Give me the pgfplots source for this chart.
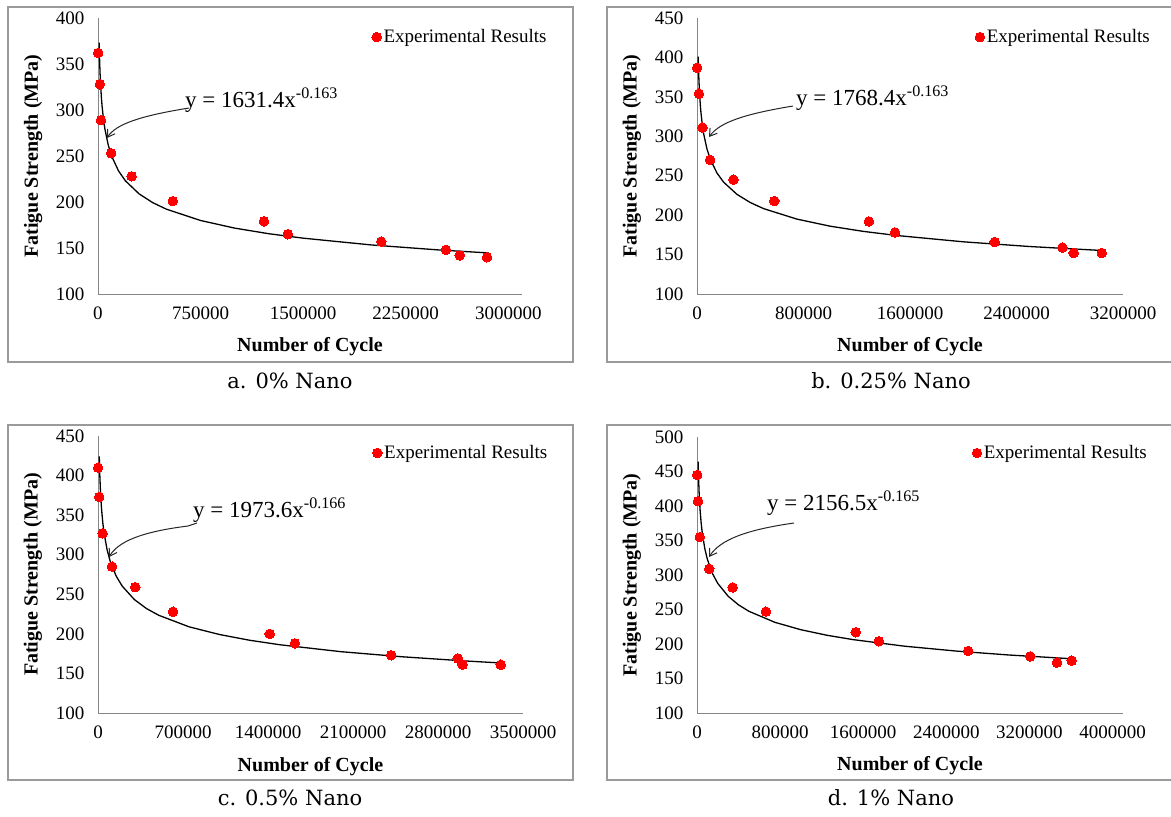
\documentclass[border=0pt]{standalone}
\usepackage{pgfplots}
\pgfplotsset{compat=1.18}
\usetikzlibrary{arrows.meta}
\usepackage{fontspec}
\setmainfont{Liberation Serif}
\newfontfamily\capfont{DejaVu Serif}
\definecolor{axgray}{HTML}{868686}
\definecolor{framegray}{HTML}{9A9A9A}
\definecolor{ptred}{HTML}{FF0000}

\pgfplotsset{
  panel/.style={
    scale only axis, clip=false,
    axis x line=bottom, axis y line=left,
    axis line style={-, draw=axgray, line width=0.9pt},
    major tick length=0pt,
    ymin=100,
    scaled x ticks=false,
    /pgf/number format/assume math mode=true,
    xticklabel style={/pgf/number format/fixed, /pgf/number format/1000 sep={}, yshift=-9pt},
    yticklabel style={xshift=-10pt},
    ticklabel style={font=\fontsize{19}{19}\selectfont},
    label style={font=\fontsize{20}{20}\selectfont\bfseries},
    xlabel style={at={(axis description cs:0.5,-0.192)}, anchor=center},
    ylabel style={at={(axis description cs:-0.153,0.5)}, anchor=center},
    xlabel={Number of Cycle},
    ylabel={Fatigue Strength (MPa)},
    legend style={draw=none, fill=none, inner sep=0pt, outer sep=0pt, anchor=west,
      font=\fontsize{19}{19}\selectfont,
      /tikz/every even column/.append style={column sep=3pt}},
    legend cell align=left,
    legend image code/.code={\draw[mark repeat=2,mark phase=2,##1] plot coordinates {(0pt,0pt) (5pt,0pt) (10pt,0pt)};},
  },
  pts/.style={only marks, color=ptred, mark=*, mark size=4.8pt, mark options={draw=ptred, fill=ptred, line width=0pt}},
  fit/.style={black, line width=1.3pt, no marks, forget plot},
}

\begin{document}
\begin{tikzpicture}
\useasboundingbox (0pt,0pt) rectangle (1171pt,-817pt);
\fill[white] (0pt,0pt) rectangle (1171pt,-817pt);

% frames
\draw[framegray, line width=1.2pt] (8pt,-7pt) rectangle (573pt,-362pt);
\draw[framegray, line width=1.2pt] (1172pt,-7pt) -- (607pt,-7pt) -- (607pt,-362pt) -- (1172pt,-362pt);
\draw[framegray, line width=1.2pt] (8pt,-425pt) rectangle (573pt,-780pt);
\draw[framegray, line width=1.2pt] (1172pt,-425pt) -- (607pt,-425pt) -- (607pt,-780pt) -- (1172pt,-780pt);

% ---------- a ----------
\begin{axis}[panel, at={(98pt,-294pt)}, anchor=south west, width=424pt, height=276pt,
  xmin=0, xmax=3100000, ymax=400,
  xtick={0,750000,1500000,2250000,3000000}, ytick={100,150,...,400},
  legend style={at={(0.646,0.931)}}]
\addplot[fit] coordinates {(8500,373.3)(10000,363.6)(12500,350.6)(15000,340.3)(20000,324.7)(25000,313.2)(30000,304.0)(40000,290.1)(50000,279.7)(75000,261.8)(100000,249.8)(150000,233.8)(200000,223.1)(300000,208.9)(400000,199.3)(500000,192.2)(750000,179.9)(1000000,171.6)(1250000,165.5)(1500000,160.7)(2000000,153.3)(2500000,147.8)(2860000,144.6)};
\addplot[pts] coordinates {(1000,362)(14000,328)(22000,289)(96000,253)(246000,228)(547000,201)(1213000,179)(1388000,165)(2071000,157)(2544000,148)(2645000,142)(2844000,140)};
\addlegendentry{Experimental Results}
\end{axis}

% ---------- b ----------
\begin{axis}[panel, at={(697pt,-294pt)}, anchor=south west, width=426pt, height=276pt,
  xmin=0, xmax=3200000, ymax=450,
  xtick={0,800000,1600000,2400000,3200000}, ytick={100,150,...,450},
  legend style={at={(0.653,0.931)}}]
\addplot[fit] coordinates {(9000,400.9)(10000,394.1)(12500,380.0)(15000,368.9)(20000,351.9)(25000,339.5)(30000,329.5)(40000,314.4)(50000,303.2)(75000,283.8)(100000,270.8)(150000,253.4)(200000,241.8)(300000,226.4)(400000,216.0)(500000,208.3)(750000,195.0)(1000000,186.0)(1250000,179.4)(1500000,174.2)(2000000,166.2)(2500000,160.2)(3060000,155.0)};
\addplot[pts] coordinates {(1000,387)(14000,354)(42000,311)(98000,270)(274000,245)(581000,218)(1291000,192)(1487000,178)(2236000,166)(2745000,159)(2829000,152)(3041000,152)};
\addlegendentry{Experimental Results}
\end{axis}

% ---------- c ----------
\begin{axis}[panel, at={(98pt,-713pt)}, anchor=south west, width=425pt, height=277pt,
  xmin=0, xmax=3500000, ymax=450,
  xtick={0,700000,1400000,2100000,2800000,3500000}, ytick={100,150,...,450},
  legend style={at={(0.646,0.939)}}]
\addplot[fit] coordinates {(10500,424.4)(12500,412.2)(15000,400.0)(20000,381.3)(25000,367.5)(30000,356.5)(40000,339.9)(50000,327.5)(75000,306.2)(100000,291.9)(150000,272.9)(200000,260.2)(300000,243.3)(400000,231.9)(500000,223.5)(750000,208.9)(1000000,199.2)(1250000,191.9)(1500000,186.2)(2000000,177.5)(2500000,171.1)(3000000,166.0)(3340000,163.0)};
\addplot[pts] coordinates {(1000,410)(9400,373)(37600,327)(116000,285)(307000,259)(618000,228)(1414000,200)(1621000,188)(2414000,173)(2963000,169)(3003000,161)(3317000,161)};
\addlegendentry{Experimental Results}
\end{axis}

% ---------- d ----------
\begin{axis}[panel, at={(697pt,-713pt)}, anchor=south west, width=426pt, height=276pt,
  xmin=0, xmax=4100000, ymax=500,
  xtick={0,800000,1600000,2400000,3200000,4000000}, ytick={100,150,...,500},
  legend style={at={(0.646,0.942)}}]
\addplot[fit] coordinates {(11000,464.4)(12500,454.8)(15000,441.2)(20000,420.8)(25000,405.6)(30000,393.6)(40000,375.3)(50000,361.7)(75000,338.3)(100000,322.7)(150000,301.8)(200000,287.8)(300000,269.2)(400000,256.7)(500000,247.4)(750000,231.4)(1000000,220.7)(1250000,212.7)(1500000,206.4)(2000000,196.8)(2500000,189.7)(3000000,184.1)(3620000,178.5)};
\addplot[pts] coordinates {(1000,445)(10000,407)(28000,355)(118000,309)(343000,282)(664000,247)(1528000,217)(1750000,204)(2610000,190)(3207000,182)(3464000,173)(3607000,176)};
\addlegendentry{Experimental Results}
\end{axis}

% equations and arrows
\node[anchor=west, inner sep=0pt, font=\fontsize{23}{23}\selectfont] at (185pt,-100pt) {y = 1631.4x\textsuperscript{-0.163}};
\draw[black!85, line width=1pt, -{Straight Barb[length=7pt,width=9pt]}] (189pt,-108pt) .. controls (140pt,-116pt) and (116pt,-124pt) .. (107pt,-138pt);

\node[anchor=west, inner sep=0pt, font=\fontsize{23}{23}\selectfont] at (796pt,-98pt) {y = 1768.4x\textsuperscript{-0.163}};
\draw[black!85, line width=1pt, -{Straight Barb[length=7pt,width=9pt]}] (793pt,-106pt) .. controls (745pt,-114pt) and (720pt,-122pt) .. (709pt,-137pt);

\node[anchor=west, inner sep=0pt, font=\fontsize{23}{23}\selectfont] at (193pt,-510pt) {y = 1973.6x\textsuperscript{-0.166}};
\draw[black!85, line width=1pt, -{Straight Barb[length=7pt,width=9pt]}] (197pt,-523pt) -- (188pt,-526pt) .. controls (140pt,-532pt) and (118pt,-542pt) .. (109pt,-557pt);

\node[anchor=west, inner sep=0pt, font=\fontsize{23}{23}\selectfont] at (767pt,-503pt) {y = 2156.5x\textsuperscript{-0.165}};
\draw[black!85, line width=1pt, -{Straight Barb[length=7pt,width=9pt]}] (794pt,-523pt) .. controls (745pt,-530pt) and (720pt,-540pt) .. (709pt,-557pt);

% captions
\node[font=\capfont\fontsize{21}{21}\selectfont] at (290pt,-381pt) {a. 0\% Nano};
\node[font=\capfont\fontsize{21}{21}\selectfont] at (891pt,-381pt) {b. 0.25\% Nano};
\node[font=\capfont\fontsize{21}{21}\selectfont] at (290pt,-798pt) {c. 0.5\% Nano};
\node[font=\capfont\fontsize{21}{21}\selectfont] at (891pt,-798pt) {d. 1\% Nano};
\end{tikzpicture}
\end{document}
